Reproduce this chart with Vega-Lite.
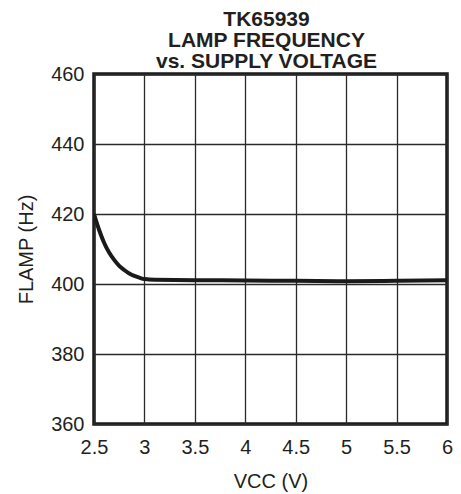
{
  "$schema": "https://vega.github.io/schema/vega-lite/v6.json",
  "autosize": {"type": "none"},
  "padding": {"left": 94, "top": 74, "right": 14, "bottom": 70},
  "width": 353,
  "height": 350,
  "background": "white",
  "title": {
    "text": ["TK65939", "LAMP FREQUENCY", "vs. SUPPLY VOLTAGE"],
    "font": "Liberation Sans",
    "fontSize": 21,
    "fontWeight": "bold",
    "lineHeight": 21,
    "color": "#231f20",
    "anchor": "middle",
    "dx": -4,
    "offset": -8
  },
  "config": {
    "view": {"stroke": "#1a1a1a", "strokeWidth": 3.5},
    "axis": {
      "labelFont": "Liberation Sans",
      "labelFontSize": 20,
      "labelColor": "#231f20",
      "titleFont": "Liberation Sans",
      "titleFontSize": 20,
      "titleFontWeight": "normal",
      "titleColor": "#231f20",
      "ticks": false,
      "domain": false,
      "gridColor": "#2a2a2a",
      "gridWidth": 1.3,
      "gridOpacity": 1,
      "labelFlush": false,
      "labelOverlap": false
    }
  },
  "data": {
    "values": [
      {"v": 2.5, "f": 420.0},
      {"v": 2.55, "f": 415.5},
      {"v": 2.6, "f": 411.8},
      {"v": 2.65, "f": 409.0},
      {"v": 2.7, "f": 406.9},
      {"v": 2.75, "f": 405.2},
      {"v": 2.8, "f": 404.0},
      {"v": 2.85, "f": 403.0},
      {"v": 2.9, "f": 402.3},
      {"v": 2.95, "f": 401.8},
      {"v": 3.0, "f": 401.4},
      {"v": 3.1, "f": 401.2},
      {"v": 3.5, "f": 401.1},
      {"v": 4.0, "f": 401.0},
      {"v": 4.5, "f": 400.9},
      {"v": 5.0, "f": 400.8},
      {"v": 5.5, "f": 400.9},
      {"v": 6.0, "f": 401.1}
    ]
  },
  "mark": {"type": "line", "color": "#1a1a1a", "strokeWidth": 4, "interpolate": "monotone", "clip": true},
  "encoding": {
    "x": {
      "field": "v",
      "type": "quantitative",
      "scale": {"domain": [2.5, 6], "nice": false, "zero": false},
      "axis": {
        "values": [2.5, 3, 3.5, 4, 4.5, 5, 5.5, 6],
        "format": "~g",
        "title": "VCC (V)",
        "labelPadding": 13,
        "titlePadding": 14
      }
    },
    "y": {
      "field": "f",
      "type": "quantitative",
      "scale": {"domain": [360, 460], "nice": false, "zero": false},
      "axis": {
        "values": [360, 380, 400, 420, 440, 460],
        "title": "FLAMP (Hz)",
        "labelPadding": 10,
        "titlePadding": 14
      }
    }
  }
}
